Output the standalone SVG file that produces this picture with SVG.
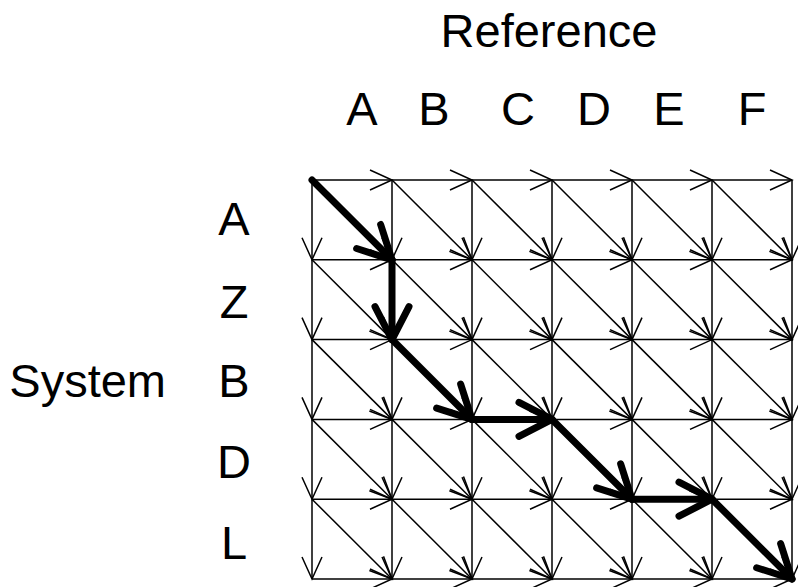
<svg xmlns="http://www.w3.org/2000/svg" width="798" height="587" viewBox="0 0 798 587">
  <style>
    text { font-family: "Liberation Sans", Arial, sans-serif; font-size: 47px; fill: #000; }
    .mid { text-anchor: middle; }
    .e { stroke: #000; stroke-width: 1.5; fill: none; marker-end: url(#thin); }
    .p { stroke: #000; stroke-width: 7; stroke-linecap: round; fill: none; marker-end: url(#thick); }
  </style>
  <defs>
    <marker id="thin" markerUnits="userSpaceOnUse" orient="auto" markerWidth="1" markerHeight="1" overflow="visible">
      <path d="M-22,-10 L0,0 L-22,10" fill="none" stroke="#000" stroke-width="1.5"/>
    </marker>
    <marker id="thick" markerUnits="userSpaceOnUse" orient="auto" markerWidth="1" markerHeight="1" overflow="visible">
      <path d="M-33,-17 L0,0 L-33,17" fill="none" stroke="#000" stroke-width="7" stroke-linecap="round" stroke-linejoin="round"/>
    </marker>
  </defs>
  <rect width="798" height="587" fill="#fff"/>

  <g id="labels">
    <text class="mid" x="549" y="47">Reference</text>
    <g id="columns">
      <text class="mid" x="362" y="125">A</text>
      <text class="mid" x="434" y="125">B</text>
      <text class="mid" x="518" y="125">C</text>
      <text class="mid" x="594" y="125">D</text>
      <text class="mid" x="669" y="125">E</text>
      <text class="mid" x="752" y="125">F</text>
    </g>
    <text x="166" y="397" text-anchor="end">System</text>
    <g id="rows">
      <text class="mid" x="234" y="235">A</text>
      <text class="mid" x="234" y="318">Z</text>
      <text class="mid" x="234" y="397">B</text>
      <text class="mid" x="234" y="478">D</text>
      <text class="mid" x="234" y="559">L</text>
    </g>
  </g>

  <g id="connectors">
    <!-- horizontal moves -->
    <g id="horizontal">
      <line class="e" x1="312" y1="180" x2="392" y2="180"/><line class="e" x1="392" y1="180" x2="472" y2="180"/><line class="e" x1="472" y1="180" x2="552" y2="180"/><line class="e" x1="552" y1="180" x2="632" y2="180"/><line class="e" x1="632" y1="180" x2="712" y2="180"/><line class="e" x1="712" y1="180" x2="792" y2="180"/>
      <line class="e" x1="312" y1="259.8" x2="392" y2="259.8"/><line class="e" x1="392" y1="259.8" x2="472" y2="259.8"/><line class="e" x1="472" y1="259.8" x2="552" y2="259.8"/><line class="e" x1="552" y1="259.8" x2="632" y2="259.8"/><line class="e" x1="632" y1="259.8" x2="712" y2="259.8"/><line class="e" x1="712" y1="259.8" x2="792" y2="259.8"/>
      <line class="e" x1="312" y1="339.6" x2="392" y2="339.6"/><line class="e" x1="392" y1="339.6" x2="472" y2="339.6"/><line class="e" x1="472" y1="339.6" x2="552" y2="339.6"/><line class="e" x1="552" y1="339.6" x2="632" y2="339.6"/><line class="e" x1="632" y1="339.6" x2="712" y2="339.6"/><line class="e" x1="712" y1="339.6" x2="792" y2="339.6"/>
      <line class="e" x1="312" y1="419.4" x2="392" y2="419.4"/><line class="e" x1="392" y1="419.4" x2="472" y2="419.4"/><line class="e" x1="472" y1="419.4" x2="552" y2="419.4"/><line class="e" x1="552" y1="419.4" x2="632" y2="419.4"/><line class="e" x1="632" y1="419.4" x2="712" y2="419.4"/><line class="e" x1="712" y1="419.4" x2="792" y2="419.4"/>
      <line class="e" x1="312" y1="499.2" x2="392" y2="499.2"/><line class="e" x1="392" y1="499.2" x2="472" y2="499.2"/><line class="e" x1="472" y1="499.2" x2="552" y2="499.2"/><line class="e" x1="552" y1="499.2" x2="632" y2="499.2"/><line class="e" x1="632" y1="499.2" x2="712" y2="499.2"/><line class="e" x1="712" y1="499.2" x2="792" y2="499.2"/>
      <line class="e" x1="312" y1="579" x2="392" y2="579"/><line class="e" x1="392" y1="579" x2="472" y2="579"/><line class="e" x1="472" y1="579" x2="552" y2="579"/><line class="e" x1="552" y1="579" x2="632" y2="579"/><line class="e" x1="632" y1="579" x2="712" y2="579"/><line class="e" x1="712" y1="579" x2="792" y2="579"/>
    </g>
    <!-- vertical moves -->
    <g id="vertical">
      <line class="e" x1="312" y1="180" x2="312" y2="259.8"/><line class="e" x1="312" y1="259.8" x2="312" y2="339.6"/><line class="e" x1="312" y1="339.6" x2="312" y2="419.4"/><line class="e" x1="312" y1="419.4" x2="312" y2="499.2"/><line class="e" x1="312" y1="499.2" x2="312" y2="579"/>
      <line class="e" x1="392" y1="180" x2="392" y2="259.8"/><line class="e" x1="392" y1="259.8" x2="392" y2="339.6"/><line class="e" x1="392" y1="339.6" x2="392" y2="419.4"/><line class="e" x1="392" y1="419.4" x2="392" y2="499.2"/><line class="e" x1="392" y1="499.2" x2="392" y2="579"/>
      <line class="e" x1="472" y1="180" x2="472" y2="259.8"/><line class="e" x1="472" y1="259.8" x2="472" y2="339.6"/><line class="e" x1="472" y1="339.6" x2="472" y2="419.4"/><line class="e" x1="472" y1="419.4" x2="472" y2="499.2"/><line class="e" x1="472" y1="499.2" x2="472" y2="579"/>
      <line class="e" x1="552" y1="180" x2="552" y2="259.8"/><line class="e" x1="552" y1="259.8" x2="552" y2="339.6"/><line class="e" x1="552" y1="339.6" x2="552" y2="419.4"/><line class="e" x1="552" y1="419.4" x2="552" y2="499.2"/><line class="e" x1="552" y1="499.2" x2="552" y2="579"/>
      <line class="e" x1="632" y1="180" x2="632" y2="259.8"/><line class="e" x1="632" y1="259.8" x2="632" y2="339.6"/><line class="e" x1="632" y1="339.6" x2="632" y2="419.4"/><line class="e" x1="632" y1="419.4" x2="632" y2="499.2"/><line class="e" x1="632" y1="499.2" x2="632" y2="579"/>
      <line class="e" x1="712" y1="180" x2="712" y2="259.8"/><line class="e" x1="712" y1="259.8" x2="712" y2="339.6"/><line class="e" x1="712" y1="339.6" x2="712" y2="419.4"/><line class="e" x1="712" y1="419.4" x2="712" y2="499.2"/><line class="e" x1="712" y1="499.2" x2="712" y2="579"/>
      <line class="e" x1="792" y1="180" x2="792" y2="259.8"/><line class="e" x1="792" y1="259.8" x2="792" y2="339.6"/><line class="e" x1="792" y1="339.6" x2="792" y2="419.4"/><line class="e" x1="792" y1="419.4" x2="792" y2="499.2"/><line class="e" x1="792" y1="499.2" x2="792" y2="579"/>
    </g>
    <!-- diagonal moves -->
    <g id="diagonal">
      <line class="e" x1="312" y1="180" x2="392" y2="259.8"/><line class="e" x1="392" y1="180" x2="472" y2="259.8"/><line class="e" x1="472" y1="180" x2="552" y2="259.8"/><line class="e" x1="552" y1="180" x2="632" y2="259.8"/><line class="e" x1="632" y1="180" x2="712" y2="259.8"/><line class="e" x1="712" y1="180" x2="792" y2="259.8"/>
      <line class="e" x1="312" y1="259.8" x2="392" y2="339.6"/><line class="e" x1="392" y1="259.8" x2="472" y2="339.6"/><line class="e" x1="472" y1="259.8" x2="552" y2="339.6"/><line class="e" x1="552" y1="259.8" x2="632" y2="339.6"/><line class="e" x1="632" y1="259.8" x2="712" y2="339.6"/><line class="e" x1="712" y1="259.8" x2="792" y2="339.6"/>
      <line class="e" x1="312" y1="339.6" x2="392" y2="419.4"/><line class="e" x1="392" y1="339.6" x2="472" y2="419.4"/><line class="e" x1="472" y1="339.6" x2="552" y2="419.4"/><line class="e" x1="552" y1="339.6" x2="632" y2="419.4"/><line class="e" x1="632" y1="339.6" x2="712" y2="419.4"/><line class="e" x1="712" y1="339.6" x2="792" y2="419.4"/>
      <line class="e" x1="312" y1="419.4" x2="392" y2="499.2"/><line class="e" x1="392" y1="419.4" x2="472" y2="499.2"/><line class="e" x1="472" y1="419.4" x2="552" y2="499.2"/><line class="e" x1="552" y1="419.4" x2="632" y2="499.2"/><line class="e" x1="632" y1="419.4" x2="712" y2="499.2"/><line class="e" x1="712" y1="419.4" x2="792" y2="499.2"/>
      <line class="e" x1="312" y1="499.2" x2="392" y2="579"/><line class="e" x1="392" y1="499.2" x2="472" y2="579"/><line class="e" x1="472" y1="499.2" x2="552" y2="579"/><line class="e" x1="552" y1="499.2" x2="632" y2="579"/><line class="e" x1="632" y1="499.2" x2="712" y2="579"/><line class="e" x1="712" y1="499.2" x2="792" y2="579"/>
    </g>
    <!-- optimal warping path -->
    <g id="path">
      <line class="p" x1="312" y1="180" x2="392" y2="259.8"/>
      <line class="p" x1="392" y1="259.8" x2="392" y2="339.6"/>
      <line class="p" x1="392" y1="339.6" x2="472" y2="419.4"/>
      <line class="p" x1="472" y1="419.4" x2="552" y2="419.4"/>
      <line class="p" x1="552" y1="419.4" x2="632" y2="499.2"/>
      <line class="p" x1="632" y1="499.2" x2="712" y2="499.2"/>
      <line class="p" x1="712" y1="499.2" x2="792" y2="579"/>
    </g>
  </g>
</svg>
